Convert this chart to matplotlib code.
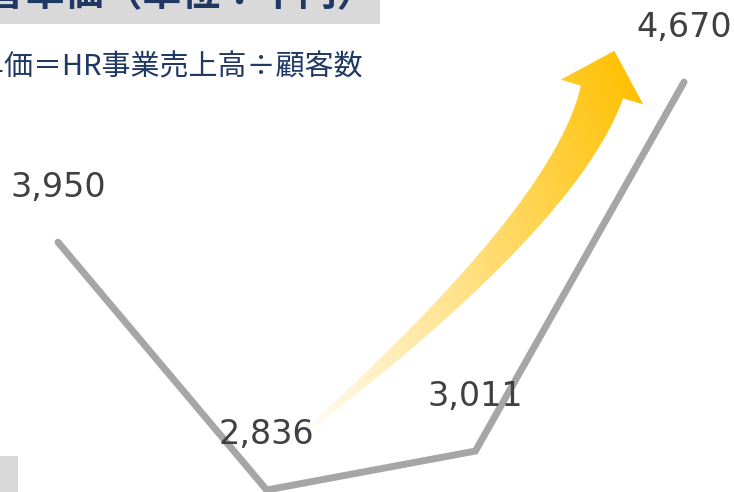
import numpy as np
import matplotlib
matplotlib.use("Agg")
import matplotlib.pyplot as plt
from matplotlib.patches import Polygon, Rectangle

# data
periods = ["P1", "P2", "P3", "P4"]
unit_price = [3950, 2836, 3011, 4670]
value_labels = ["3,950", "2,836", "3,011", "4,670"]
title_text = "顧客単価（単位：千円）"
note_text = "顧客単価＝HR事業売上高÷顧客数"

plt.rcParams['font.family'] = ['DejaVu Sans']
CJK = ['Noto Sans CJK JP', 'DejaVu Sans']
W, H = 734, 492

fig = plt.figure(figsize=(W / 100, H / 100), dpi=100)

# overlay in pixel coords for slide decorations
ov = fig.add_axes([0, 0, 1, 1])
ov.set_xlim(0, W)
ov.set_ylim(H, 0)
ov.axis('off')

ov.add_patch(Rectangle((0, 0), 380, 24, color="#D9D9D9", lw=0))
ov.add_patch(Rectangle((0, 456), 18, 40, color="#D9D9D9", lw=0))
ov.text(376, -5, title_text, ha='right', va='center', fontsize=28,
        fontweight='bold', color="#1F3864", family=CJK)
ov.text(363, 67, note_text, ha='right', va='center', fontsize=20.9,
        color="#1F3864", family=CJK)

# curved growth arrow (quadratic bezier centerline, tapering)
P0 = np.array([306.0, 431.0])
P1 = np.array([565.0, 215.0])
P2 = np.array([602.0, 92.0])
t = np.linspace(0, 1, 100)[:, None]
C = (1 - t) ** 2 * P0 + 2 * (1 - t) * t * P1 + t ** 2 * P2
T = 2 * (1 - t) * (P1 - P0) + 2 * t * (P2 - P1)
T = T / np.linalg.norm(T, axis=1, keepdims=True)
N = np.column_stack([-T[:, 1], T[:, 0]])
w = (1.0 + 21.0 * t[:, 0] ** 0.75)[:, None]
left = C - w * N
right = C + w * N
head_l = C[-1] - 43 * N[-1]
head_r = C[-1] + 43 * N[-1]
tip = C[-1] + 43 * T[-1]
pts = np.vstack([left, head_l, tip, head_r, right[::-1]])
poly = Polygon(pts, closed=True, facecolor='none', edgecolor='none')
ov.add_patch(poly)

yy, xx = np.mgrid[0:H, 0:W]
ang = np.deg2rad(20)
g = ((xx - 310) * np.cos(ang) + (430 - yy) * np.sin(ang)) / 428
g = np.clip(g, 0, 1)
g = 0.04 + 0.96 * g
gold = np.array([255, 192, 0]) / 255
img = np.ones((H, W, 3)) * (1 - g[..., None]) + gold * g[..., None]
im = ov.imshow(img, extent=(0, W, H, 0), interpolation='bilinear', zorder=1)
im.set_clip_path(poly)

# line chart
ax = fig.add_axes([0, 0, 1, 1])
ax.patch.set_alpha(0)
ax.axis('off')
x = np.arange(len(periods))
ax.plot(x, unit_price, color="#A6A6A6", lw=5, solid_capstyle='round',
        solid_joinstyle='miter')
ax.set_xlim(-58 / 208.67, (W - 58) / 208.67)
ax.set_ylim(2827, 5039)
for xi, v, lab in zip(x, unit_price, value_labels):
    ax.annotate(lab, (xi, v), xytext=(0, 55), textcoords='offset pixels',
                ha='center', va='center', fontsize=24, color="#404040")

fig.savefig("out.png", dpi=100)
